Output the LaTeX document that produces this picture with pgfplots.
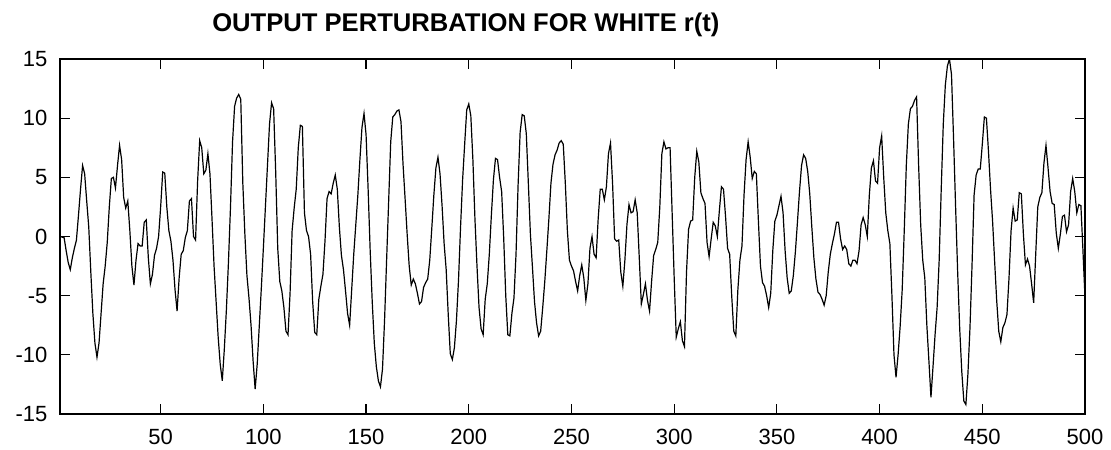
\documentclass[border=0pt]{standalone}
\usepackage{fontspec}
\setmainfont{Liberation Sans}
\usepackage{pgfplots}
\pgfplotsset{compat=1.18}
\usetikzlibrary{calc}
\begin{document}
\begin{tikzpicture}
\begin{axis}[
  scale only axis,
  width=512.5pt, height=177.5pt,
  xmin=1, xmax=500, ymin=-15, ymax=15,
  xtick={50,100,...,500},
  xticklabels={50,100,150,200,250,300,350,400,450,500},
  ytick={-15,-10,...,15},
  yticklabels={-15,-10,-5,0,5,10,15},
  tick align=inside,
  major tick length=5pt,
  axis line style={line width=0.8pt},
  every tick/.style={black, line width=0.6pt},
  tick label style={font=\fontsize{11}{13}\selectfont},
  xticklabel style={yshift=-3.8pt},
  yticklabel style={xshift=-2.8pt},
  title={OUTPUT PERTURBATION FOR WHITE r(t)},
  title style={font=\fontsize{12.8}{15}\selectfont\bfseries, at={(axis description cs:0.396,1)}, anchor=base, yshift=7.65pt, inner sep=0pt},
]
\addplot[black, line width=0.6pt] table[x expr=\coordindex+1, y index=0, header=false, row sep=\\] {
0\\ -0.05\\ -0.1\\ -1.2\\ -2.2\\ -2.8\\ -1.8\\ -1.0\\ -0.3\\ 1.8\\
4.0\\ 6.0\\ 5.3\\ 3.0\\ 0.8\\ -3.0\\ -6.5\\ -9.0\\ -10.2\\ -9.0\\
-6.5\\ -4.0\\ -2.5\\ -0.5\\ 2.5\\ 4.9\\ 5.0\\ 4.1\\ 6.0\\ 7.7\\
6.5\\ 3.3\\ 2.4\\ 3.0\\ 0.5\\ -2.5\\ -4.1\\ -2.0\\ -0.6\\ -0.8\\
-0.8\\ 1.2\\ 1.4\\ -1.8\\ -4.0\\ -3.2\\ -1.6\\ -1.0\\ 0.0\\ 2.5\\
5.45\\ 5.35\\ 2.5\\ 0.5\\ -0.4\\ -2.0\\ -4.5\\ -6.3\\ -3.5\\ -1.5\\
-1.2\\ -0.1\\ 0.5\\ 3.0\\ 3.2\\ 0.0\\ -0.3\\ 4.7\\ 8.1\\ 7.5\\
5.3\\ 5.6\\ 7.0\\ 5.3\\ 1.5\\ -2.5\\ -5.5\\ -8.5\\ -10.8\\ -12.2\\
-9.5\\ -6.2\\ -2.2\\ 2.5\\ 8.0\\ 11.0\\ 11.7\\ 12.0\\ 11.6\\ 4.5\\
0.2\\ -3.3\\ -5.2\\ -7.5\\ -10.5\\ -12.9\\ -10.8\\ -7.6\\ -4.4\\ -1.0\\
2.5\\ 6.0\\ 9.5\\ 11.3\\ 10.8\\ 5.5\\ -1.0\\ -3.8\\ -4.6\\ -6.0\\
-8.0\\ -8.3\\ -4.8\\ 0.5\\ 2.4\\ 4.0\\ 7.5\\ 9.4\\ 9.3\\ 2.0\\
0.5\\ 0.0\\ -1.5\\ -5.5\\ -8.1\\ -8.3\\ -5.3\\ -4.2\\ -3.2\\ -0.4\\
3.2\\ 3.8\\ 3.6\\ 4.5\\ 5.2\\ 4.0\\ 0.8\\ -1.6\\ -2.8\\ -4.6\\
-6.5\\ -7.5\\ -4.5\\ -1.5\\ 1.0\\ 3.5\\ 6.5\\ 9.2\\ 10.4\\ 8.6\\
4.0\\ -1.2\\ -5.5\\ -9.0\\ -11.0\\ -12.2\\ -12.7\\ -11.2\\ -7.1\\ -2.0\\
3.0\\ 8.0\\ 10.1\\ 10.3\\ 10.6\\ 10.7\\ 9.7\\ 6.1\\ 3.2\\ 0.2\\
-2.5\\ -4.1\\ -3.6\\ -4.0\\ -4.8\\ -5.7\\ -5.5\\ -4.3\\ -3.9\\ -3.6\\
-2.0\\ 0.7\\ 3.5\\ 5.8\\ 6.7\\ 5.3\\ 2.6\\ -0.6\\ -2.8\\ -6.6\\
-9.9\\ -10.4\\ -9.4\\ -7.1\\ -3.7\\ 0.8\\ 4.8\\ 7.8\\ 10.7\\ 11.2\\
10.2\\ 6.5\\ 1.5\\ -2.5\\ -6.0\\ -7.8\\ -8.3\\ -5.3\\ -4.0\\ -1.5\\
1.8\\ 4.8\\ 6.6\\ 6.5\\ 5.0\\ 3.8\\ -0.1\\ -5.0\\ -8.3\\ -8.4\\
-6.5\\ -5.2\\ -1.5\\ 4.3\\ 8.8\\ 10.3\\ 10.2\\ 8.7\\ 4.5\\ 0.2\\
-2.6\\ -5.5\\ -7.3\\ -8.4\\ -8.0\\ -6.0\\ -3.8\\ -1.2\\ 1.5\\ 4.5\\
6.1\\ 6.9\\ 7.3\\ 7.9\\ 8.1\\ 7.8\\ 4.5\\ 0.5\\ -2.0\\ -2.5\\
-2.9\\ -3.8\\ -4.6\\ -3.3\\ -2.4\\ -3.5\\ -5.4\\ -4.0\\ -1.0\\ 0.0\\
-1.5\\ -1.8\\ 1.5\\ 4.0\\ 4.0\\ 3.1\\ 4.2\\ 7.0\\ 7.9\\ 4.5\\
-0.2\\ -0.4\\ -0.3\\ -3.0\\ -4.2\\ -2.0\\ 1.0\\ 2.7\\ 2.0\\ 2.1\\
3.1\\ 2.0\\ -1.8\\ -5.7\\ -4.9\\ -4.0\\ -5.4\\ -6.3\\ -3.8\\ -1.6\\
-1.1\\ -0.5\\ 2.5\\ 7.0\\ 8.0\\ 7.4\\ 7.5\\ 7.5\\ 2.0\\ -3.5\\
-8.5\\ -7.8\\ -7.2\\ -8.8\\ -9.3\\ -3.0\\ 0.6\\ 1.3\\ 1.4\\ 5.0\\
7.2\\ 6.3\\ 3.7\\ 3.2\\ 2.8\\ -0.5\\ -1.7\\ -0.2\\ 1.2\\ 0.9\\
0.0\\ 2.2\\ 4.2\\ 4.0\\ 1.7\\ -1.0\\ -1.5\\ -5.0\\ -8.0\\ -8.4\\
-4.5\\ -2.0\\ -0.8\\ 3.5\\ 6.5\\ 8.0\\ 6.7\\ 4.9\\ 5.5\\ 5.3\\
1.3\\ -2.5\\ -3.9\\ -4.2\\ -5.0\\ -6.0\\ -4.8\\ -1.2\\ 1.3\\ 1.8\\
2.6\\ 3.4\\ 2.0\\ -1.2\\ -3.5\\ -4.8\\ -4.6\\ -3.3\\ -1.3\\ 1.2\\
3.8\\ 6.0\\ 6.9\\ 6.6\\ 5.5\\ 3.6\\ 0.8\\ -1.8\\ -3.6\\ -4.7\\
-4.9\\ -5.3\\ -5.8\\ -5.0\\ -3.0\\ -1.5\\ -0.6\\ 0.2\\ 1.2\\ 1.2\\
-0.2\\ -1.1\\ -0.8\\ -1.1\\ -2.3\\ -2.5\\ -2.0\\ -2.0\\ -2.3\\ -1.2\\
1.0\\ 1.6\\ 1.0\\ 0.0\\ 3.5\\ 5.8\\ 6.4\\ 4.7\\ 4.5\\ 7.5\\
8.5\\ 5.0\\ 2.0\\ 0.5\\ -0.6\\ -5.0\\ -10.0\\ -11.9\\ -10.0\\ -7.6\\
-4.5\\ 0.5\\ 6.0\\ 9.5\\ 10.8\\ 11.0\\ 11.5\\ 11.8\\ 6.0\\ 1.0\\
-2.0\\ -3.5\\ -7.5\\ -10.5\\ -13.6\\ -11.0\\ -8.3\\ -6.0\\ -2.0\\ 4.0\\
9.5\\ 12.8\\ 14.4\\ 15.0\\ 13.7\\ 8.3\\ 2.5\\ -3.0\\ -7.8\\ -11.4\\
-13.9\\ -14.2\\ -11.6\\ -7.7\\ -2.4\\ 3.5\\ 5.2\\ 5.7\\ 5.7\\ 7.8\\
10.1\\ 10.0\\ 7.2\\ 4.0\\ 1.3\\ -2.1\\ -5.4\\ -8.0\\ -8.9\\ -7.7\\
-7.3\\ -6.6\\ -3.5\\ 0.5\\ 2.4\\ 1.3\\ 1.4\\ 3.7\\ 3.6\\ 0.2\\
-2.4\\ -1.9\\ -2.5\\ -4.0\\ -5.6\\ -1.5\\ 2.5\\ 3.3\\ 3.7\\ 6.2\\
7.7\\ 5.8\\ 3.8\\ 2.8\\ 2.7\\ 0.3\\ -1.0\\ 0.2\\ 1.7\\ 1.8\\
0.4\\ 1.0\\ 3.8\\ 4.9\\ 3.8\\ 2.0\\ 2.7\\ 2.6\\ -1.2\\ -5.2\\
};
\end{axis}
\pgfresetboundingbox
\path[use as bounding box] ($(current axis.south west)+(-30pt,-17.5pt)$) rectangle ($(current axis.north east)+(13pt,29.5pt)$);
\end{tikzpicture}
\end{document}
